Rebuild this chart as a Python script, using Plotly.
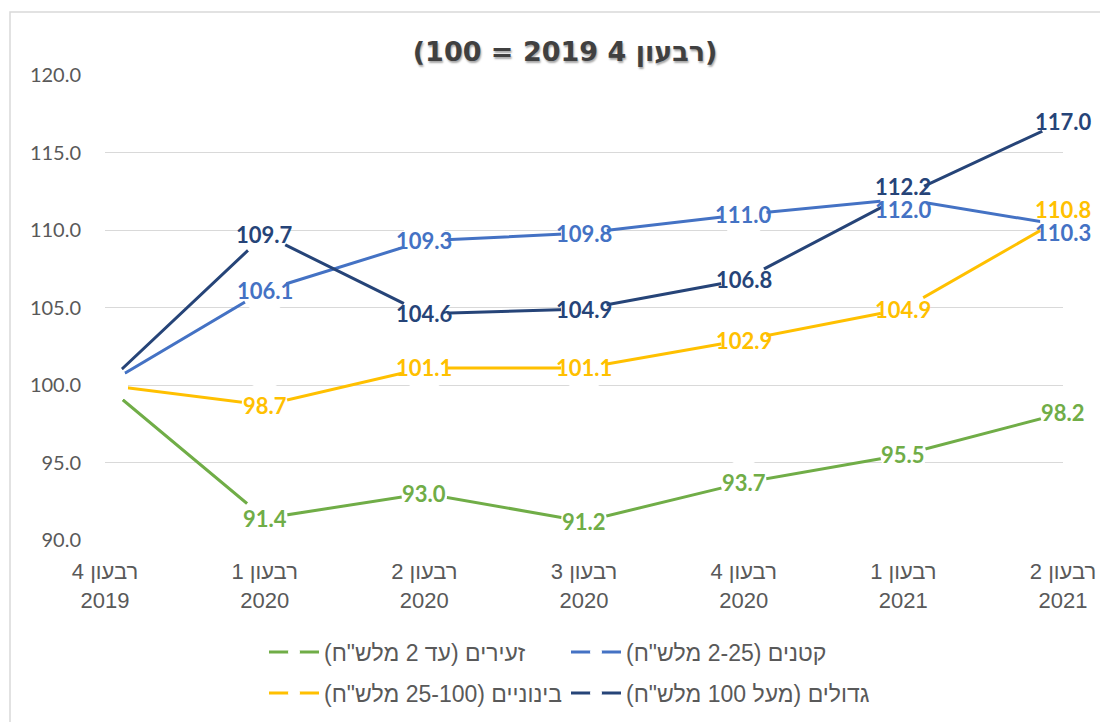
import plotly.graph_objects as go

# ---- data ----
quarters = ["רבעון 4", "רבעון 1", "רבעון 2", "רבעון 3", "רבעון 4", "רבעון 1", "רבעון 2"]
years = ["2019", "2020", "2020", "2020", "2020", "2021", "2021"]

tiny = [100.0, 91.4, 93.0, 91.2, 93.7, 95.5, 98.2]        # זעירים
small = [100.0, 106.1, 109.3, 109.8, 111.0, 112.0, 110.3]  # קטנים
medium = [100.0, 98.7, 101.1, 101.1, 102.9, 104.9, 110.8]  # בינוניים
large = [100.0, 109.7, 104.6, 104.9, 106.8, 112.2, 117.0]  # גדולים

series_names = [
    'זעירים (עד 2 מלש"ח)',
    'קטנים (2-25 מלש"ח)',
    'בינוניים (25-100 מלש"ח)',
    'גדולים (מעל 100 מלש"ח)',
]
title_text = "(רבעון 4 2019 = 100)"

# ---- styles ----
colors = ["#70AD47", "#4472C4", "#FFC000", "#264478"]
legend_ids = ["legend", "legend2", "legend3", "legend4"]
# legend symbol start (x) and row centre (y), in reference pixels
legend_pos = [(270, 652), (572, 652), (270, 693), (572, 693)]
# pixel offsets for labels that would collide: (series index, point index) -> yshift
label_shift = {(1, 5): -10, (3, 5): 9, (2, 6): 8, (1, 6): -7}

labels = [f"{q}<br>{y}" for q, y in zip(quarters, years)]
all_series = [tiny, small, medium, large]

# page body adds an 8px margin; work in figure coordinates
OFF = 8
W, H = 1108 - OFF, 722 - OFF
L, R = 105 - OFF, W - (1063 - OFF)
T, B = 75 - OFF, H - (540 - OFF)


def cx(ref_px):
    return (ref_px - OFF) / W


def cy(ref_py):
    return 1 - (ref_py - OFF) / H


fig = go.Figure()

for s, (vals, name, col, lg) in enumerate(zip(all_series, series_names, colors, legend_ids)):
    fig.add_trace(go.Scatter(
        x=labels, y=vals, mode="lines+markers", name=name,
        line=dict(color=col, width=3),
        marker=dict(color="white", size=12, line=dict(width=0)),
        legend=lg, cliponaxis=False, hoverinfo="skip",
    ))

# white discs around every data point (label backgrounds)
for vals in all_series:
    fig.add_trace(go.Scatter(
        x=labels, y=vals, mode="markers", showlegend=False,
        marker=dict(color="white", size=46, line=dict(width=0)),
        cliponaxis=False, hoverinfo="skip",
    ))

annotations = []
for s, (vals, col) in enumerate(zip(all_series, colors)):
    for i in range(1, len(vals)):
        annotations.append(dict(
            x=labels[i], y=vals[i], xref="x", yref="y",
            text=f"{vals[i]:.1f}", showarrow=False,
            yshift=label_shift.get((s, i), 0),
            font=dict(family="Lato", size=22, color=col, weight="bold"),
        ))

legends = {}
for lg, (lx, ly) in zip(legend_ids, legend_pos):
    legends[lg] = dict(
        orientation="h", xref="container", yref="container",
        x=cx(lx - 6), xanchor="left", y=cy(ly), yanchor="middle",
        itemwidth=50, bgcolor="rgba(0,0,0,0)",
        font=dict(family="Liberation Sans", size=23, color="#595959"),
    )

fig.update_layout(
    width=W, height=H,
    margin=dict(l=L, r=R, t=T, b=B, autoexpand=False),
    paper_bgcolor="white", plot_bgcolor="white",
    title=dict(
        text=title_text, x=cx(565), xanchor="center",
        y=cy(52), yanchor="middle",
        font=dict(family="DejaVu Sans", size=27, color="#404040", weight="bold",
                  shadow="1px 2px 2px rgba(0,0,0,0.35)"),
    ),
    xaxis=dict(
        type="category", range=[0, len(labels) - 1], showgrid=False, showline=False,
        zeroline=False, ticks="", ticklabelstandoff=16,
        tickfont=dict(family="Liberation Sans", size=22, color="#595959"),
    ),
    yaxis=dict(
        range=[90, 120], dtick=5, tick0=90, tickformat=".1f",
        showgrid=True, gridcolor="#D9D9D9", gridwidth=1,
        showline=False, zeroline=False, ticks="", ticklabelstandoff=23,
        tickfont=dict(family="Lato", size=20, color="#595959"),
    ),
    annotations=annotations,
    shapes=[dict(
        type="rect", xref="paper", yref="paper",
        x0=(10 - 105) / (1063 - 105), x1=(1140 - 105) / (1063 - 105),
        y0=(540 - 12) / (540 - 75), y1=(540 - 760) / (540 - 75),
        line=dict(color="#D9D9D9", width=1.5), fillcolor="rgba(0,0,0,0)", layer="below",
    )],
    hovermode=False,
    **legends,
)

fig.write_html("out.html")
